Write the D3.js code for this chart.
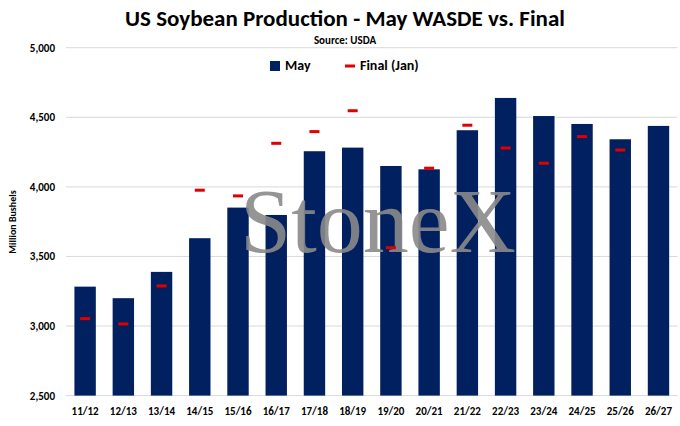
<!DOCTYPE html>
<html><head><meta charset="utf-8">
<script src="https://cdn.jsdelivr.net/npm/d3@7"></script>
<style>body{margin:0;background:#fff}</style>
</head><body><div id="viz"></div>
<script>
var categories = ["11/12","12/13","13/14","14/15","15/16","16/17","17/18","18/19","19/20","20/21","21/22","22/23","23/24","24/25","25/26","26/27"];
var mayValues = [3283,3200,3389,3631,3851,3798,4256,4282,4150,4126,4407,4639,4509,4452,4342,4438];
var finalValues = [3053,3015,3288,3976,3935,4313,4397,4547,3563,4134,4443,4279,4170,4361,4265,null];
var yTicks = [2500,3000,3500,4000,4500,5000];

var W = 680, H = 426;
var margin = {top: 47.7, bottom: 30.4, left: 66, right: 2.4};
var svg = d3.select("#viz").append("svg").attr("width", W).attr("height", H)
  .style("font-family", "Calibri, Carlito, 'Liberation Sans', Arial, sans-serif");

var x = d3.scaleBand().domain(categories).range([margin.left, W - margin.right]).paddingInner(0.44).paddingOuter(0.22);
var y = d3.scaleLinear().domain([2500, 5000]).range([H - margin.bottom, margin.top]);

// Grid
svg.append("g").selectAll("line").data(yTicks).join("line")
  .attr("x1", margin.left).attr("x2", W - margin.right)
  .attr("y1", function(d){ return y(d); }).attr("y2", function(d){ return y(d); })
  .attr("stroke", "#d9d9d9").attr("stroke-width", 1);

// Y tick labels
svg.append("g").selectAll("text").data(yTicks).join("text")
  .attr("x", 55).attr("y", function(d){ return y(d) + 4; })
  .attr("text-anchor", "end").attr("font-size", 11).attr("font-weight", "bold")
  .text(function(d){ return d3.format(",")(d); });

// Bars
svg.append("g").selectAll("rect").data(categories).join("rect")
  .attr("x", function(d){ return x(d); }).attr("width", x.bandwidth())
  .attr("y", function(d, i){ return y(mayValues[i]); })
  .attr("height", function(d, i){ return y(2500) - y(mayValues[i]); })
  .attr("fill", "#002060");

// Watermark
svg.append("text").attr("x", 378).attr("y", 252).attr("text-anchor", "middle")
  .attr("font-family", "'Liberation Serif', 'DejaVu Serif', serif").attr("font-size", 92)
  .attr("fill", "#8a8a8a").attr("fill-opacity", 0.9).text("StoneX");

// Final dashes
svg.append("g").selectAll("rect").data(categories.filter(function(d, i){ return finalValues[i] != null; })).join("rect")
  .attr("x", function(d){ return x(d) + x.bandwidth() / 2 - 5; }).attr("width", 10)
  .attr("y", function(d){ return y(finalValues[categories.indexOf(d)]) - 1.5; }).attr("height", 3)
  .attr("fill", "#e00000");

// X labels
svg.append("g").selectAll("text").data(categories).join("text")
  .attr("x", function(d){ return x(d) + x.bandwidth() / 2; }).attr("y", 415)
  .attr("text-anchor", "middle").attr("font-size", 11).attr("font-weight", "bold")
  .text(function(d){ return d; });

// Titles
svg.append("text").attr("x", 345).attr("y", 26).attr("text-anchor", "middle")
  .attr("font-size", 23).attr("font-weight", "bold").text("US Soybean Production - May WASDE vs. Final");
svg.append("text").attr("x", 345).attr("y", 44).attr("text-anchor", "middle")
  .attr("font-size", 11).attr("font-weight", "bold").text("Source: USDA");

// Y axis title
svg.append("text").attr("transform", "translate(16,222) rotate(-90)").attr("text-anchor", "middle")
  .attr("font-size", 10).attr("font-weight", "bold").text("Million Bushels");

// Legend
var lg = svg.append("g");
lg.append("rect").attr("x", 270).attr("y", 61).attr("width", 10).attr("height", 10).attr("fill", "#002060");
lg.append("text").attr("x", 285).attr("y", 70).attr("font-size", 14).attr("font-weight", "bold").text("May");
lg.append("rect").attr("x", 345).attr("y", 64.5).attr("width", 10).attr("height", 3).attr("fill", "#e00000");
lg.append("text").attr("x", 360).attr("y", 70).attr("font-size", 14).attr("font-weight", "bold").text("Final (Jan)");
</script>
</body></html>
